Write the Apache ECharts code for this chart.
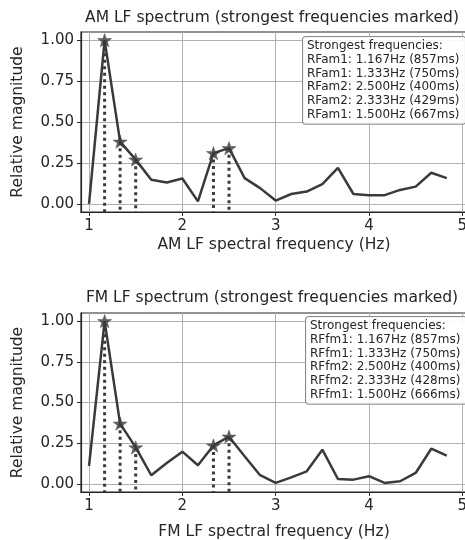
<!DOCTYPE html>
<html>
<head>
<meta charset="utf-8">
<script src="https://cdn.jsdelivr.net/npm/echarts@6/dist/echarts.min.js"></script>
<style>
  html, body { margin: 0; padding: 0; background: #fff; }
  #main { width: 465px; height: 540px; }
</style>
</head>
<body>
<div id="main"></div>
<script>
// spectral frequency bins (Hz)
const freqs = [1.0, 1.167, 1.333, 1.5, 1.667, 1.833, 2.0, 2.167, 2.333, 2.5, 2.667, 2.833,
  3.0, 3.167, 3.333, 3.5, 3.667, 3.833, 4.0, 4.167, 4.333, 4.5, 4.667, 4.833]

// relative magnitudes
const amMag = [0.0, 1.0, 0.38, 0.27, 0.147, 0.13, 0.155, 0.015, 0.31, 0.34, 0.157, 0.096,
  0.02, 0.06, 0.075, 0.12, 0.22, 0.06, 0.053, 0.053, 0.085, 0.105, 0.19, 0.157]
const fmMag = [0.11, 1.0, 0.37, 0.224, 0.053, 0.128, 0.198, 0.114, 0.236, 0.29, 0.17, 0.053,
  0.006, 0.04, 0.077, 0.21, 0.03, 0.026, 0.047, 0.006, 0.016, 0.067, 0.216, 0.173]

// indexes of the strongest frequencies
const peakIdx = [1, 2, 9, 8, 3]

const amLegend = ['Strongest frequencies:', 'RFam1: 1.167Hz (857ms)', 'RFam1: 1.333Hz (750ms)',
  'RFam2: 2.500Hz (400ms)', 'RFam2: 2.333Hz (429ms)', 'RFam1: 1.500Hz (667ms)']
const fmLegend = ['Strongest frequencies:', 'RFfm1: 1.167Hz (857ms)', 'RFfm1: 1.333Hz (750ms)',
  'RFfm2: 2.500Hz (400ms)', 'RFfm2: 2.333Hz (428ms)', 'RFfm1: 1.500Hz (666ms)']

const xTicks = [1, 2, 3, 4, 5]
const yTicks = [0, 0.25, 0.5, 0.75, 1.0]

const X_MIN = 0.914
const X_MAX = 5.05
const Y_MIN = -0.05
const Y_MAX = 1.05

const FONT = 'DejaVu Sans'
const INK = '#262626'
const LINE = '#3a3a3a'
const STAR = 'path://M0,-10L2.35,-3.24L9.51,-3.09L3.8,1.24L5.88,8.09L0,4L-5.88,8.09L-3.8,1.24L-9.51,-3.09L-2.35,-3.24Z'

function makeX(gridIndex, name, gap) {
  return {
    type: 'value',
    gridIndex,
    min: X_MIN,
    max: X_MAX,
    name,
    nameLocation: 'middle',
    nameGap: gap,
    nameTextStyle: { fontFamily: FONT, fontSize: 15.5, color: INK },
    axisLine: { show: true, onZero: false, lineStyle: { color: INK, width: 1.2 } },
    axisTick: { show: true, length: 4, customValues: xTicks, lineStyle: { color: INK } },
    axisLabel: {
      customValues: xTicks, margin: 7,
      fontFamily: FONT, fontSize: 15, color: INK
    },
    splitLine: { show: true, lineStyle: { color: '#b0b0b0', width: 1 } }
  }
}

function makeY(gridIndex) {
  return {
    type: 'value',
    gridIndex,
    min: Y_MIN,
    max: Y_MAX,
    name: 'Relative magnitude',
    nameLocation: 'middle',
    nameGap: 55,
    nameTextStyle: { fontFamily: FONT, fontSize: 15.5, color: INK },
    axisLine: { show: true, onZero: false, lineStyle: { color: INK, width: 1.2 } },
    axisTick: { show: true, length: 4, customValues: yTicks, lineStyle: { color: INK } },
    axisLabel: {
      customValues: yTicks, margin: 7,
      fontFamily: FONT, fontSize: 15, color: INK,
      formatter: (v) => v.toFixed(2)
    },
    splitLine: { show: true, lineStyle: { color: '#b0b0b0', width: 1 } }
  }
}

function makeSeries(idx, mags) {
  const line = freqs.map((f, i) => [f, mags[i]])
  // dotted stems from each strongest point down to the frame
  const stems = []
  peakIdx.forEach(i => {
    stems.push([freqs[i], mags[i]])
    stems.push([freqs[i], Y_MIN])
    stems.push([freqs[i], '-'])
  })
  const stars = peakIdx.map(i => [freqs[i], mags[i]])
  return [
    {
      type: 'line',
      xAxisIndex: idx,
      yAxisIndex: idx,
      data: stems,
      showSymbol: false,
      connectNulls: false,
      silent: true,
      lineStyle: { color: LINE, width: 3, type: [3, 3.5], cap: 'butt' },
      z: 2
    },
    {
      type: 'line',
      xAxisIndex: idx,
      yAxisIndex: idx,
      data: line,
      showSymbol: false,
      lineStyle: { color: LINE, width: 2.5 },
      z: 3
    },
    {
      type: 'scatter',
      xAxisIndex: idx,
      yAxisIndex: idx,
      data: stars,
      symbol: STAR,
      symbolKeepAspect: true,
      symbolSize: 14,
      itemStyle: { color: LINE, borderColor: LINE, borderWidth: 0.5 },
      z: 4
    }
  ]
}

function legendBox(x, y, lines) {
  return {
    type: 'text',
    x, y,
    z: 100,
    style: {
      text: lines.join('\n'),
      fontFamily: FONT,
      fontSize: 12,
      lineHeight: 13.8,
      fill: INK,
      backgroundColor: 'rgba(255,255,255,0.9)',
      borderColor: '#8a8a8a',
      borderWidth: 1,
      borderRadius: 3,
      padding: [2, 6, 2, 4]
    }
  }
}

function titleText(y, text) {
  return {
    type: 'text',
    x: 272,
    y,
    style: {
      text,
      fontFamily: FONT,
      fontSize: 15.5,
      fill: INK,
      align: 'center',
      verticalAlign: 'middle'
    }
  }
}

const chart = echarts.init(document.getElementById('main'), null, { width: 465, height: 540 })

chart.setOption({
  backgroundColor: '#fff',
  animation: false,
  grid: [
    { left: 81, top: 32, width: 386, height: 180, outerBoundsMode: 'none', containLabel: false, show: true, borderColor: INK, borderWidth: 1.2 },
    { left: 81, top: 313, width: 386, height: 179, outerBoundsMode: 'none', containLabel: false, show: true, borderColor: INK, borderWidth: 1.2 }
  ],
  xAxis: [
    makeX(0, 'AM LF spectral frequency (Hz)', 25),
    makeX(1, 'FM LF spectral frequency (Hz)', 32)
  ],
  yAxis: [makeY(0), makeY(1)],
  series: [...makeSeries(0, amMag), ...makeSeries(1, fmMag)],
  graphic: [
    titleText(18, 'AM LF spectrum (strongest frequencies marked)'),
    titleText(298, 'FM LF spectrum (strongest frequencies marked)'),
    legendBox(303, 37, amLegend),
    legendBox(306, 317, fmLegend)
  ]
})
</script>
</body>
</html>
